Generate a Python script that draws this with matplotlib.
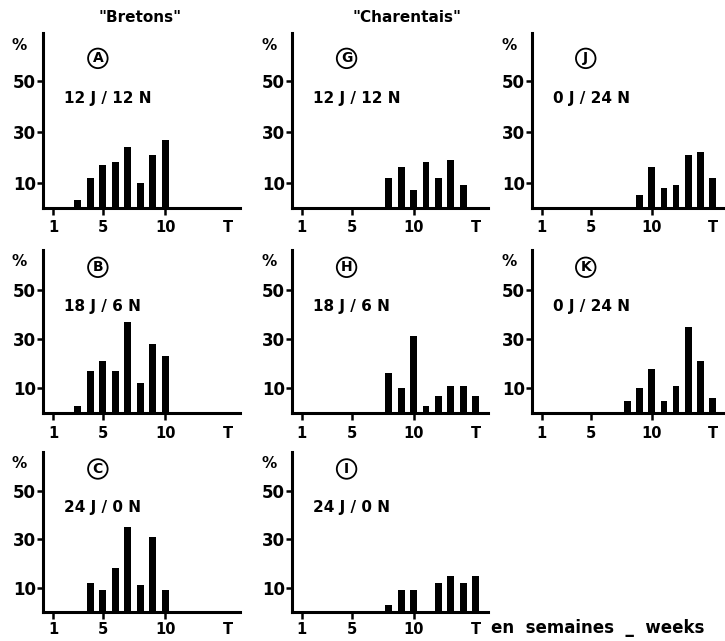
import matplotlib
matplotlib.use("Agg")
import matplotlib.pyplot as plt

# ---- data (percent of plants per week) ----
weeks_A = [3, 4, 5, 6, 7, 8, 9, 10]
vals_A = [3, 12, 17, 18, 24, 10, 21, 27]
weeks_B = [3, 4, 5, 6, 7, 8, 9, 10]
vals_B = [3, 17, 21, 17, 37, 12, 28, 23]
weeks_C = [4, 5, 6, 7, 8, 9, 10]
vals_C = [12, 9, 18, 35, 11, 31, 9]
weeks_G = [8, 9, 10, 11, 12, 13, 14]
vals_G = [12, 16, 7, 18, 12, 19, 9]
weeks_H = [8, 9, 10, 11, 12, 13, 14, 15]
vals_H = [16, 10, 31, 3, 7, 11, 11, 7]
weeks_I = [8, 9, 10, 11, 12, 13, 14, 15]
vals_I = [3, 9, 9, 0, 12, 15, 12, 15]
weeks_J = [9, 10, 11, 12, 13, 14, 15]
vals_J = [5, 16, 8, 9, 21, 22, 12]
weeks_K = [8, 9, 10, 11, 12, 13, 14, 15]
vals_K = [5, 10, 18, 5, 11, 35, 21, 6]

letters = ["A", "B", "C", "G", "H", "I", "J", "K"]
regimes = ["12 J / 12 N", "18 J / 6 N", "24 J / 0 N",
           "12 J / 12 N", "18 J / 6 N", "24 J / 0 N",
           "0 J / 24 N", "0 J / 24 N"]
xtick_pos = [1, 5, 10, 15]
xtick_labels = ["1", "5", "10", "T"]
ytick_pos = [10, 30, 50]
ytick_labels = ["10", "30", "50"]
col_titles = ['"Bretons"', '"Charentais"']

W, H = 725, 641
fig = plt.figure(figsize=(W / 100, H / 100), dpi=100)
plt.rcParams['font.family'] = ['DejaVu Sans']

# panel pixel geometry: (left, width) per column, (top, bottom) per row
cols = [(43, 197), (292, 196), (532, 193)]
rows = [(33, 208), (250, 413), (452, 612)]
ytops = [69, 66, 66]
xpads = [4, 4, 2]

panels = [
    (0, 0, weeks_A, vals_A), (0, 1, weeks_B, vals_B), (0, 2, weeks_C, vals_C),
    (1, 0, weeks_G, vals_G), (1, 1, weeks_H, vals_H), (1, 2, weeks_I, vals_I),
    (2, 0, weeks_J, vals_J), (2, 1, weeks_K, vals_K),
]

for idx, (c, r, wk, vals) in enumerate(panels):
    left, width = cols[c]
    top, bottom = rows[r]
    ax = fig.add_axes([left / W, 1 - bottom / H, width / W, (bottom - top) / H])
    ax.bar(wk, vals, width=0.55, color="black")
    ax.set_xlim(0.2, 16)
    ax.set_ylim(0, ytops[r])
    for s in ["top", "right"]:
        ax.spines[s].set_visible(False)
    for s in ["left", "bottom"]:
        ax.spines[s].set_linewidth(2.2)
    ax.set_xticks(xtick_pos, xtick_labels)
    ax.set_yticks(ytick_pos, ytick_labels)
    ax.tick_params(axis="x", direction="out", length=5, width=1.8,
                   labelsize=10.5, pad=xpads[r])
    ax.tick_params(axis="y", direction="out", length=4, width=1.8,
                   labelsize=12, pad=1)
    ax.xaxis.get_major_ticks()[3].tick1line.set_visible(False)
    for lab in ax.get_xticklabels() + ax.get_yticklabels():
        lab.set_fontweight("bold")
    ax.text(4.6, 59, letters[idx], ha="center", va="center", fontsize=10,
            fontweight="bold",
            bbox=dict(boxstyle="circle,pad=0.2", fc="white", ec="black", lw=1.3))
    ax.text(1.9, 43, regimes[idx], ha="left", va="center", fontsize=11,
            fontweight="bold")
    ax.text(-0.08, 0.93, "%", transform=ax.transAxes, ha="right", va="center",
            fontsize=11, fontweight="bold")

fig.text(140 / W, 1 - 17 / H, col_titles[0], ha="center", va="center",
         fontsize=11, fontweight="bold")
fig.text(407 / W, 1 - 17 / H, col_titles[1], ha="center", va="center",
         fontsize=11, fontweight="bold")
fig.text(491 / W, 1 - 628 / H, "en  semaines  _  weeks", ha="left", va="center",
         fontsize=12, fontweight="bold")

fig.savefig("out.png", dpi=100)
